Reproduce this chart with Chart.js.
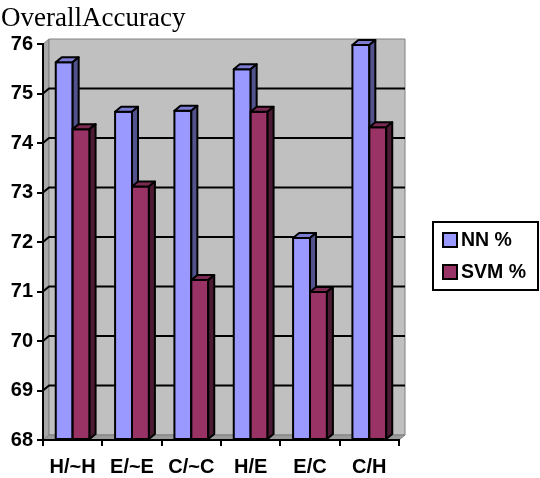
<!DOCTYPE html>
<html>
<head>
<meta charset="utf-8">
<script src="https://cdn.jsdelivr.net/npm/chart.js@4/dist/chart.umd.min.js"></script>
<style>
  html, body { margin: 0; padding: 0; background: #fff; }
</style>
</head>
<body>
<canvas id="myChart" width="540" height="478"></canvas>
<script>
// chart data
const categories = ['H/~H', 'E/~E', 'C/~C', 'H/E', 'E/C', 'C/H'];
const nnValues = [75.63, 74.63, 74.65, 75.49, 72.08, 75.98];
const svmValues = [74.28, 73.12, 71.23, 74.63, 70.99, 74.32];
const seriesNames = ['NN %', 'SVM %'];
const yMin = 68;
const yMax = 76;
const chartTitle = 'OverallAccuracy';

// 3D look: depth of walls and columns
const DX = 6, DY = -5;
const faceColors = [
    { front: '#9999ff', top: '#7b7bd0', side: '#52528c' },
    { front: '#993366', top: '#7d2a53', side: '#4c1a33' }
];
const boldFont = { family: '"Liberation Sans", Arial, sans-serif', size: 20, weight: 'bold' };

function poly(ctx, pts, fill) {
    ctx.beginPath();
    ctx.moveTo(pts[0][0], pts[0][1]);
    for (let i = 1; i < pts.length; i++) ctx.lineTo(pts[i][0], pts[i][1]);
    ctx.closePath();
    ctx.fillStyle = fill;
    ctx.fill();
    ctx.stroke();
}

const threeD = {
    id: 'threeD',
    beforeDraw(chart) {
        const { ctx, chartArea: a, scales: { y } } = chart;
        ctx.save();
        ctx.lineWidth = 1;
        ctx.strokeStyle = '#808080';
        ctx.lineJoin = 'round';
        // side wall
        poly(ctx, [[a.left, a.top], [a.left + DX, a.top + DY], [a.left + DX, a.bottom + DY], [a.left, a.bottom]], '#a8a8a8');
        // back wall
        poly(ctx, [[a.left + DX, a.top + DY], [a.right + DX, a.top + DY], [a.right + DX, a.bottom + DY], [a.left + DX, a.bottom + DY]], '#c0c0c0');
        // floor
        poly(ctx, [[a.left, a.bottom], [a.left + DX, a.bottom + DY], [a.right + DX, a.bottom + DY], [a.right, a.bottom]], '#9a9a9a');
        // gridlines on the back wall
        ctx.strokeStyle = '#000';
        ctx.lineWidth = 2;
        y.ticks.forEach(t => {
            if (t.value <= yMin || t.value >= yMax) return;
            const py = y.getPixelForValue(t.value);
            ctx.beginPath();
            ctx.moveTo(a.left, py);
            ctx.lineTo(a.left + DX, py + DY);
            ctx.lineTo(a.right + DX, py + DY);
            ctx.stroke();
        });
        ctx.restore();
    },
    // columns are redrawn series by series so the later one hides the earlier one's side
    afterDatasetsDraw(chart) {
        const ctx = chart.ctx;
        ctx.save();
        ctx.strokeStyle = '#000';
        ctx.lineWidth = 2;
        ctx.lineJoin = 'round';
        chart.data.datasets.forEach((ds, i) => {
            const c = faceColors[i];
            chart.getDatasetMeta(i).data.forEach(bar => {
                const { x, y, base, width } = bar.getProps(['x', 'y', 'base', 'width'], true);
                const l = x - width / 2, r = x + width / 2;
                poly(ctx, [[l, y], [r, y], [r, base], [l, base]], c.front);
                poly(ctx, [[l, y], [l + DX, y + DY], [r + DX, y + DY], [r, y]], c.top);
                poly(ctx, [[r, y], [r + DX, y + DY], [r + DX, base + DY], [r, base]], c.side);
            });
        });
        ctx.restore();
    },
    afterDraw(chart) {
        const ctx = chart.ctx;
        ctx.save();
        // title
        ctx.fillStyle = '#000';
        ctx.font = '27px "Liberation Serif", "Times New Roman", serif';
        ctx.textBaseline = 'alphabetic';
        ctx.fillText(chartTitle, 1, 26);
        // legend box
        ctx.lineWidth = 2;
        ctx.strokeStyle = '#000';
        ctx.fillStyle = '#fff';
        ctx.fillRect(433, 222, 105, 68);
        ctx.strokeRect(433, 222, 105, 68);
        ctx.font = 'bold 19.5px "Liberation Sans", Arial, sans-serif';
        ctx.textBaseline = 'middle';
        chart.data.datasets.forEach((ds, i) => {
            const cy = 240 + i * 32;
            ctx.fillStyle = ds.backgroundColor;
            ctx.fillRect(443, cy - 7, 14, 14);
            ctx.strokeRect(443, cy - 7, 14, 14);
            ctx.fillStyle = '#000';
            ctx.fillText(ds.label, 461, cy + 1);
        });
        ctx.restore();
    }
};

new Chart(document.getElementById('myChart'), {
    type: 'bar',
    data: {
        labels: categories,
        datasets: [
            { label: seriesNames[0], data: nnValues, backgroundColor: faceColors[0].front },
            { label: seriesNames[1], data: svmValues, backgroundColor: faceColors[1].front }
        ]
    },
    options: {
        responsive: false,
        animation: false,
        devicePixelRatio: 1,
        layout: { padding: { left: 0, top: 44, right: 141, bottom: 0 } },
        datasets: {
            bar: {
                base: yMin,
                borderColor: '#000',
                borderWidth: 2,
                borderSkipped: false,
                categoryPercentage: 0.57,
                barPercentage: 1,
                clip: false
            }
        },
        plugins: {
            legend: { display: false },
            tooltip: { enabled: false }
        },
        scales: {
            x: {
                grid: { drawOnChartArea: false, tickLength: 6, color: '#000', lineWidth: 2, offset: true },
                border: { display: true, color: '#000', width: 2 },
                ticks: { color: '#000', font: boldFont, padding: 9, maxRotation: 0, autoSkip: false },
                afterFit(scale) { scale.height = 38; }
            },
            y: {
                min: yMin,
                max: yMax,
                grid: { drawOnChartArea: false, tickLength: 6, color: '#000', lineWidth: 2 },
                border: { display: true, color: '#000', width: 2 },
                ticks: { stepSize: 1, color: '#000', font: boldFont, padding: 4 },
                afterFit(scale) { scale.width = 43; }
            }
        }
    },
    plugins: [threeD]
});
</script>
</body>
</html>
